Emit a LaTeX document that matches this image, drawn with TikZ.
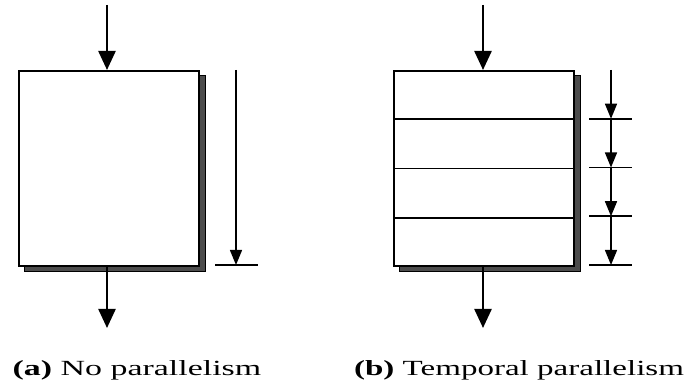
\documentclass[tikz,border=0pt]{standalone}
\usepackage{fontspec}
\setmainfont{Liberation Serif}
\usetikzlibrary{arrows.meta,calc}

\begin{document}
\begin{tikzpicture}[x=0.5pt,y=-0.5pt,
  flow/.style={line width=1.2pt,-{Triangle[width=8.5pt,length=9.5pt]}},
  timeflow/.style={line width=0.7pt,-{Triangle[width=6pt,length=7.5pt]}},
  tickline/.style={line width=0.8pt},
  stagebox/.style={draw,line width=1.1pt,fill=white,minimum width=90pt,minimum height=97.5pt,inner sep=0pt,anchor=north west},
  shadebox/.style={draw,line width=0.6pt,fill=black!70,minimum width=90.5pt,minimum height=98pt,inner sep=0pt,anchor=north west},
  caption/.style={font=\fontsize{10.8}{13}\selectfont,anchor=base,inner sep=0pt}]
\useasboundingbox (0,0) rectangle (690,384);

% (a) no parallelism
\node[shadebox] (sa) at (24,75) {};
\node[stagebox] (a) at (18,70) {};
\coordinate (ain) at (107,5);
\coordinate (aout) at (107,328);
\draw[flow] (ain) -- (a.north -| ain);
\draw[flow] (a.south -| aout) -- (aout);
\coordinate (ta0) at (236,70);
\coordinate (ta1) at (236,265);
\coordinate (tal) at (215,265);
\coordinate (tar) at (258,265);
\draw[timeflow] (ta0) -- (ta1);
\draw[tickline] (tal) -- (tar);
\node[caption] (capa) at (137,375) {\scalebox{1.57}[1]{\textbf{(a)} No parallelism}};

% (b) temporal parallelism
\node[shadebox] (sb) at (399,75) {};
\node[stagebox] (b) at (393,70) {};
\coordinate (bin) at (483,5);
\coordinate (bout) at (483,328);
\draw[flow] (bin) -- (b.north -| bin);
\draw[flow] (b.south -| bout) -- (bout);
\foreach \i in {1,2,3} {
  \draw[line width=0.9pt] ($(b.north west)!\i/4!(b.south west)$) -- ($(b.north east)!\i/4!(b.south east)$);
}
\coordinate (tb0) at (611,70);
\foreach \i [evaluate=\i as \j using int(\i-1)] in {1,2,3,4} {
  \coordinate (tb\i) at (611,{70+48.75*\i});
  \draw[timeflow] (tb\j) -- (tb\i);
  \draw[tickline] ($(tb\i)+(-22,0)$) -- ($(tb\i)+(21,0)$);
}
\node[caption] (capb) at (519,375) {\scalebox{1.53}[1]{\textbf{(b)} Temporal parallelism}};
\end{tikzpicture}
\end{document}
